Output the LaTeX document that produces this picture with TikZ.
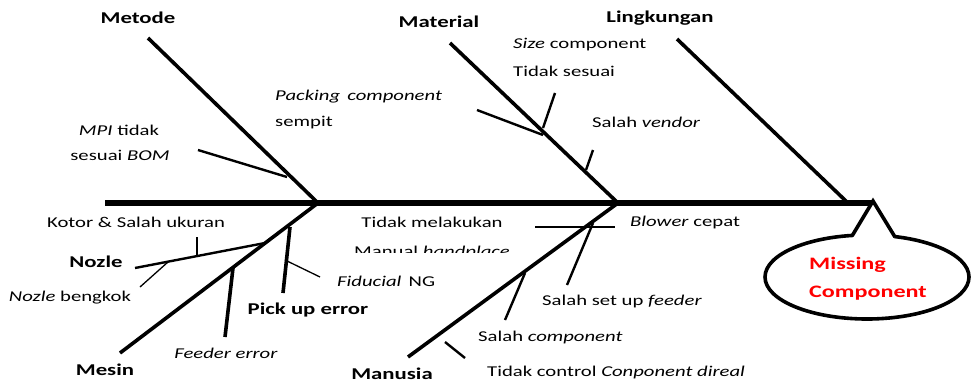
\documentclass[tikz,border=0pt]{standalone}
\usepackage{fontspec}
\setmainfont{Carlito}[FakeStretch=1.38]
\begin{document}
\begin{tikzpicture}[x=1pt,y=-1pt,
  spine/.style={line width=6pt},
  bone/.style={line width=3.6pt},
  tickln/.style={line width=2.4pt},
  thinln/.style={line width=1.3pt},
  lbl/.style={font=\fontsize{15}{17}\selectfont, inner sep=0pt},
  hd/.style={font=\fontsize{16.5}{19}\selectfont\bfseries, inner sep=0pt},
  res/.style={font=\fontsize{17.5}{20}\selectfont\bfseries, text=red, inner sep=0pt, anchor=west}]
\useasboundingbox (0,0) rectangle (971,383);
% spine
\coordinate (sL) at (105,203);
\coordinate (sR) at (873,203);
\coordinate (jA) at (318,203);
\coordinate (jB) at (618,203);
\coordinate (jC) at (848,203);
\draw[spine] (sL) -- (sR);
% upper bones
\coordinate (metT) at (148,38);
\coordinate (matT) at (450,43);
\coordinate (linT) at (677,39);
\draw[bone] (metT) -- (jA);
\draw[bone] (matT) -- (jB);
\draw[bone] (linT) -- (jC);
% Metode sub
\coordinate (m1a) at (198,150); \coordinate (m1b) at (287,177);
\draw[tickln] (m1a) -- (m1b);
% Material subs
\coordinate (p1a) at (477,110); \coordinate (p1b) at (543,135);
\draw[tickln] (p1a) -- (p1b);
\coordinate (s1a) at (555,93); \coordinate (s1b) at (543,128);
\draw[tickln] (s1a) -- (s1b);
\coordinate (v1a) at (593,150); \coordinate (v1b) at (586,170);
\draw[tickln] (v1a) -- (v1b);
% lower bones
\coordinate (mesB) at (120,353);
\coordinate (manB) at (408,357);
\draw[bone] (mesB) -- (jA);
\draw[bone] (manB) -- (jB);
% Mesin subs
\coordinate (nzA) at (135,268); \coordinate (nzB) at (265,243);
\draw[tickln] (nzA) -- (nzB);
\coordinate (k1a) at (197,237); \coordinate (k1b) at (197,255);
\draw[thinln] (k1a) -- (k1b);
\coordinate (b1a) at (140,287); \coordinate (b1b) at (168,262);
\draw[thinln] (b1a) -- (b1b);
\coordinate (puA) at (290,227); \coordinate (puB) at (283,293);
\draw[bone] (puA) -- (puB);
\coordinate (fdA) at (285,260); \coordinate (fdB) at (320,277);
\draw[thinln] (fdA) -- (fdB);
\coordinate (feA) at (233,268); \coordinate (feB) at (225,337);
\draw[bone] (feA) -- (feB);
% Manusia subs
\coordinate (hA) at (535,227); \coordinate (hB) at (615,227);
\draw[tickln] (hA) -- (hB);
\coordinate (sfA) at (593,223); \coordinate (sfB) at (567,285);
\draw[tickln] (sfA) -- (sfB);
\coordinate (scA) at (525,273); \coordinate (scB) at (505,320);
\draw[tickln] (scA) -- (scB);
\coordinate (tcA) at (445,342); \coordinate (tcB) at (465,358);
\draw[tickln] (tcA) -- (tcB);
% head callout
\draw[bone, fill=white] (867,277) ellipse [x radius=102, y radius=42];
\fill[white] (853,242) -- (853,234) -- (873,201) -- (894,235) -- (894,242) -- cycle;
\coordinate (hdL) at (852,236); \coordinate (hdT) at (873,201); \coordinate (hdR) at (895,237);
\draw[bone, line join=miter] (hdL) -- (hdT) -- (hdR);
\node[res] (miss) at (809,265) {Missing};
\node[res] (comp) at (809,293) {Component};
% category labels
\node[hd] (metode) at (138,18) {Metode};
\node[hd] (material) at (439,22) {Material};
\node[hd] (lingk) at (660,18) {Lingkungan};
\node[hd] (mesin) at (105,370) {Mesin};
\node[hd] (manusia) at (392,374) {Manusia};
\node[hd] (nozle) at (96,262) {Nozle};
\node[hd] (pickup) at (308,310) {Pick up error};
% cause labels
\node[lbl] (mpi) at (119,130) {\emph{MPI} tidak};
\node[lbl] (bom) at (120,155) {sesuai \emph{BOM}};
\node[lbl, anchor=west] (pack) at (275,97) {\emph{Packing\, component}};
\node[lbl, anchor=west] (semp) at (275,123) {sempit};
\node[lbl, anchor=west] (size) at (513,45) {\emph{Size} component};
\node[lbl, anchor=west] (tsesuai) at (513,71) {Tidak sesuai};
\node[lbl, anchor=west] (vendor) at (592,122) {Salah \emph{vendor}};
\node[lbl] (kotor) at (136,222) {Kotor \& Salah ukuran};
\node[lbl] (bengkok) at (70,298) {\emph{Nozle} bengkok};
\node[lbl, anchor=west] (fid) at (337,281) {\emph{Fiducial}\, NG};
\node[lbl] (feeder) at (226,353) {\emph{Feeder error}};
\node[lbl] (tidakm) at (432,222) {Tidak melakukan};
\begin{scope}
\clip (340,238) rectangle (560,252);
\node[lbl, anchor=base] (manual) at (432,256) {Manual \emph{handplace}};
\end{scope}
\node[lbl, anchor=west] (blower) at (630,222) {\emph{Blower} cepat};
\node[lbl, anchor=west] (setup) at (542,301) {Salah set up \emph{feeder}};
\node[lbl, anchor=west] (salahc) at (478,337) {Salah \emph{component}};
\node[lbl, anchor=west] (tcontrol) at (487,372) {Tidak control \emph{Conponent direal}};
\end{tikzpicture}
\end{document}
